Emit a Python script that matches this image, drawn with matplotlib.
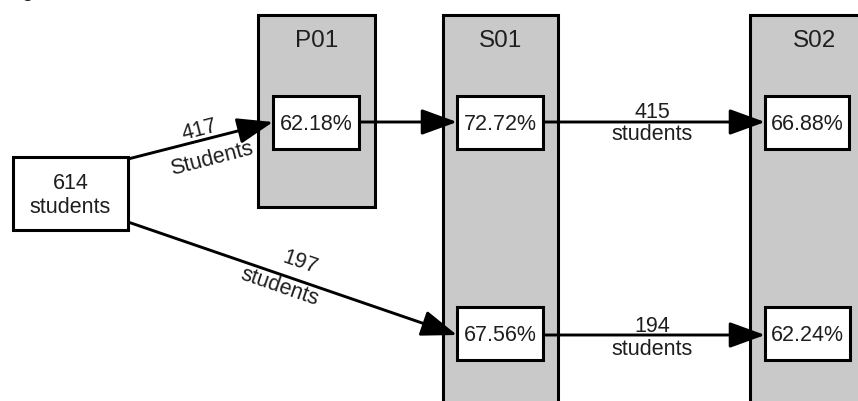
import matplotlib
matplotlib.use("Agg")
import matplotlib.pyplot as plt
from matplotlib.patches import Rectangle, FancyArrowPatch, ArrowStyle

# ---- data ----
start_count = 614
stage_names = ["P01", "S01", "S02"]
upper_rates = [62.18, 72.72, 66.88]   # P01 -> S01 -> S02 (upper path)
lower_rates = [67.56, 62.24]          # S01 -> S02 (lower path)
flow_counts = [417, 197, 415, 194]
flow_words = ["Students", "students", "students", "students"]

plt.rcParams['font.family'] = ['Liberation Sans', 'DejaVu Sans']
TXT = '#1e1e1e'
FS = 15.5

fig = plt.figure(figsize=(8.58, 4.02), dpi=100)
ax = fig.add_axes([0, 0, 1, 1])
ax.set_xlim(0, 858)
ax.set_ylim(402, 0)
ax.axis('off')

GRAY = '#c9c9c9'
LW_BOX = 2.2

# stage containers (x0, y0, x1, y1)
stage_boxes = [(258, 16, 375, 208), (443, 16, 558, 420), (750, 16, 880, 420)]
for name, (x0, y0, x1, y1) in zip(stage_names, stage_boxes):
    ax.add_patch(Rectangle((x0, y0), x1 - x0, y1 - y0, facecolor=GRAY,
                           edgecolor='black', lw=LW_BOX, zorder=1))
    ax.text((x0 + x1) / 2, 41, name, ha='center', va='center',
            fontsize=17.5, color=TXT, zorder=5)

def node(x0, y0, x1, y1, text):
    ax.add_patch(Rectangle((x0, y0), x1 - x0, y1 - y0, facecolor='white',
                           edgecolor='black', lw=LW_BOX, zorder=4))
    ax.text((x0 + x1) / 2, (y0 + y1) / 2 + 1, text, ha='center', va='center',
            fontsize=FS, color=TXT, zorder=5, linespacing=1.15)

# start node
node(13, 158, 128, 231, f"{start_count}\nstudents")

# upper path nodes
upper_boxes = [(273, 97, 359, 150), (457, 97, 543, 150), (765, 97, 849, 150)]
for r, b in zip(upper_rates, upper_boxes):
    node(*b, f"{r:.2f}%")

# lower path nodes
lower_boxes = [(457, 308, 543, 361), (765, 308, 850, 361)]
for r, b in zip(lower_rates, lower_boxes):
    node(*b, f"{r:.2f}%")

style = ArrowStyle('-|>', head_length=22, head_width=8)

def arrow(p0, p1):
    ax.add_patch(FancyArrowPatch(p0, p1, arrowstyle=style, mutation_scale=1,
                                 lw=2.1, color='black', shrinkA=0, shrinkB=0,
                                 zorder=3))

# arrows
arrow((128, 160), (273, 123))          # start -> P01
arrow((128, 223), (457, 336))          # start -> S01 lower
arrow((359, 123), (457, 123))          # P01 -> S01 upper
arrow((543, 123), (765, 123))          # S01 -> S02 upper
arrow((543, 336), (765, 336))          # S01 -> S02 lower

# flow labels: (count position, word position, rotation)
label_pos = [((199, 130), (212, 159), 14.6),
             ((300, 263), (280, 287), -19.0),
             ((652, 112), (652, 135), 0),
             ((652, 327), (652, 350), 0)]
for c, w, (pc, pw, rot) in zip(flow_counts, flow_words, label_pos):
    ax.text(pc[0], pc[1], str(c), ha='center', va='center', rotation=rot,
            rotation_mode='anchor', fontsize=FS, color=TXT, zorder=5)
    ax.text(pw[0], pw[1], w, ha='center', va='center', rotation=rot,
            rotation_mode='anchor', fontsize=FS, color=TXT, zorder=5)

# fragment of cropped caption at top-left
ax.text(27, -4, "g", ha='center', va='baseline', fontsize=FS, color=TXT)

fig.savefig("out.png", dpi=100)
